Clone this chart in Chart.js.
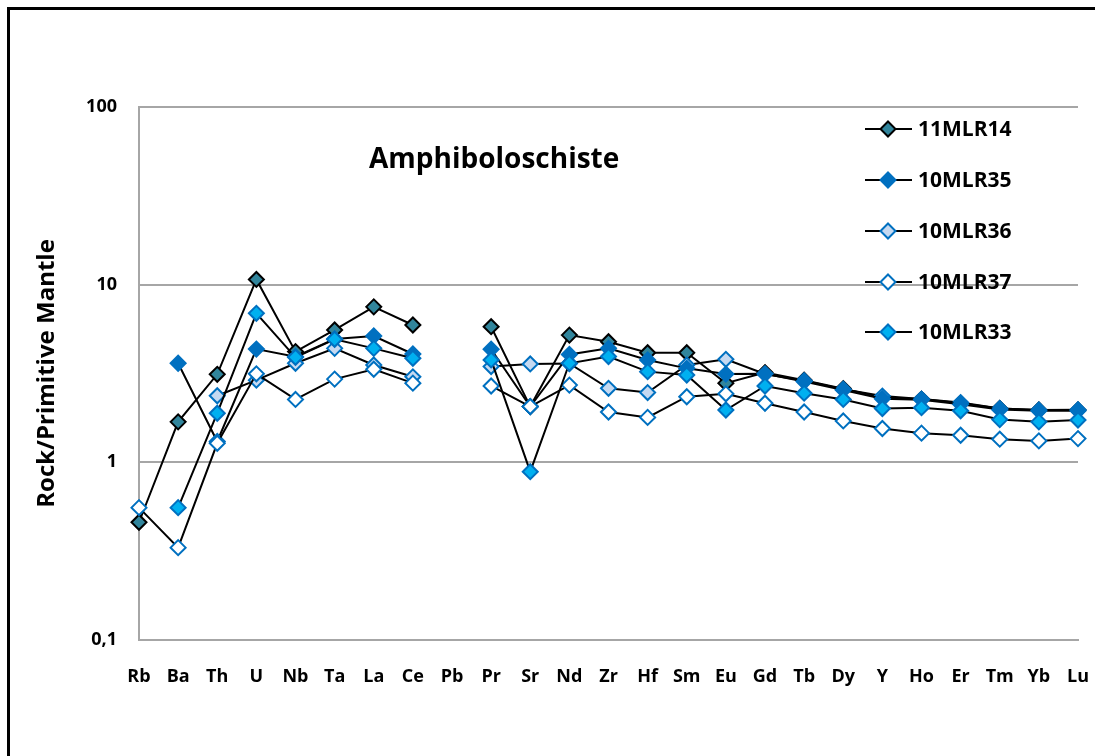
<!DOCTYPE html>
<html>
<head>
<meta charset="utf-8">
<script src="https://cdn.jsdelivr.net/npm/chart.js@4/dist/chart.umd.min.js"></script>
<style>
  html, body { margin: 0; padding: 0; background: #fff; }
  #wrap { width: 1095px; height: 756px; position: relative; }
</style>
</head>
<body>
<div id="wrap"><canvas id="spiderChart"></canvas></div>
<script>
// Éléments (axe X)
const elements = ['Rb', 'Ba', 'Th', 'U', 'Nb', 'Ta', 'La', 'Ce', 'Pb', 'Pr', 'Sr', 'Nd', 'Zr', 'Hf', 'Sm', 'Eu', 'Gd', 'Tb', 'Dy', 'Y', 'Ho', 'Er', 'Tm', 'Yb', 'Lu'];

// Ticks de l'axe Y (log)
const yTicks = [0.1, 1, 10, 100];

// Échantillons normalisés au manteau primitif
const mlr14 = [0.46, 1.69, 3.13, 10.7, 4.2, 5.56, 7.5, 5.93, null, 5.8, 2.06, 5.2, 4.77, 4.14, 4.14, 2.79, 3.2, 2.9, 2.6, 2.32, 2.27, 2.15, 2.01, 1.97, 1.97];
const mlr35 = [null, 3.61, 1.31, 4.34, 3.93, 4.95, 5.14, 4.07, null, 4.33, 2.06, 4.05, 4.38, 3.77, 3.38, 3.14, 3.15, 2.85, 2.55, 2.28, 2.25, 2.12, 1.98, 1.95, 1.95];
const mlr36 = [null, null, 2.37, 2.9, 3.61, 4.38, 3.53, 3.03, null, 3.46, 3.58, 3.6, 2.61, 2.47, 3.53, 3.8, 3.14, 2.88, 2.58, 2.36, 2.27, 2.17, 2.01, 1.97, 1.98];
const mlr37 = [0.556, 0.331, 1.28, 3.15, 2.26, 2.94, 3.34, 2.79, null, 2.69, 2.06, 2.72, 1.92, 1.79, 2.34, 2.43, 2.15, 1.92, 1.71, 1.55, 1.46, 1.42, 1.35, 1.32, 1.36];
const mlr33 = [null, 0.556, 1.89, 6.9, 3.9, 4.93, 4.38, 3.85, null, 3.77, 0.886, 3.61, 3.94, 3.24, 3.1, 1.97, 2.69, 2.45, 2.26, 2.01, 2.03, 1.95, 1.74, 1.69, 1.73];

const FONT = '"Open Sans", Lato, sans-serif';

function serie(label, data, fill, border, order) {
    return {
        label: label,
        data: data,
        borderColor: '#000',
        borderWidth: 2,
        pointStyle: 'rectRot',
        pointRadius: 7.5,
        pointHoverRadius: 7.5,
        pointBackgroundColor: fill,
        pointBorderColor: border,
        pointBorderWidth: 2,
        spanGaps: false,
        tension: 0,
        order: order
    };
}

// Titre, légende et cadre dessinés à la main
const decorPlugin = {
    id: 'decor',
    afterDraw(chart) {
        const ctx = chart.ctx;
        ctx.save();
        // cadre noir
        ctx.strokeStyle = '#000';
        ctx.lineWidth = 3;
        ctx.strokeRect(8.5, 8.5, 2000, 2000);

        // titre
        ctx.fillStyle = '#000';
        ctx.font = 'bold 28px ' + FONT;
        ctx.textBaseline = 'middle';
        ctx.textAlign = 'left';
        ctx.fillText('Amphiboloschiste', 369, 160);

        // légende
        const ys = [129, 180, 231, 282, 332];
        chart.data.datasets.forEach(function(ds, i) {
            const y = ys[i];
            ctx.strokeStyle = '#000';
            ctx.lineWidth = 2;
            ctx.beginPath();
            ctx.moveTo(865, y);
            ctx.lineTo(912, y);
            ctx.stroke();
            ctx.fillStyle = ds.pointBackgroundColor;
            ctx.strokeStyle = ds.pointBorderColor;
            ctx.lineWidth = 2;
            ctx.beginPath();
            ctx.moveTo(888, y - 7.5);
            ctx.lineTo(895.5, y);
            ctx.lineTo(888, y + 7.5);
            ctx.lineTo(880.5, y);
            ctx.closePath();
            ctx.fill();
            ctx.stroke();
            ctx.fillStyle = '#000';
            ctx.font = 'bold 21px ' + FONT;
            ctx.fillText(ds.label, 918, y + 1);
        });
        ctx.restore();
    }
};

const ctx = document.getElementById('spiderChart').getContext('2d');
const spiderChart = new Chart(ctx, {
    type: 'line',
    data: {
        labels: elements,
        datasets: [
            serie('11MLR14', mlr14, '#31859C', '#000000', 5),
            serie('10MLR35', mlr35, '#0070C0', '#0070C0', 3),
            serie('10MLR36', mlr36, '#C5D9F1', '#0070C0', 4),
            serie('10MLR37', mlr37, '#FFFFFF', '#0070C0', 2),
            serie('10MLR33', mlr33, '#00B0F0', '#0070C0', 1)
        ]
    },
    options: {
        responsive: true,
        maintainAspectRatio: false,
        animation: false,
        layout: {
            padding: { top: 107, right: 17, left: 0, bottom: 0 }
        },
        plugins: {
            legend: { display: false },
            tooltip: { enabled: false }
        },
        scales: {
            x: {
                type: 'category',
                offset: false,
                grid: { display: false, drawTicks: false },
                border: { display: true, color: '#A6A6A6', width: 2 },
                ticks: {
                    autoSkip: false,
                    maxRotation: 0,
                    padding: 26,
                    color: '#000',
                    font: { family: FONT, size: 18, weight: 'bold' }
                },
                afterFit(scale) {
                    scale.height = 116;
                    scale.paddingLeft = 0;
                    scale.paddingRight = 0;
                }
            },
            y: {
                type: 'logarithmic',
                min: 0.1,
                max: 100,
                afterBuildTicks(scale) {
                    scale.ticks = yTicks.map(v => ({ value: v }));
                },
                grid: { color: '#A6A6A6', lineWidth: 2, drawTicks: false },
                border: { display: true, color: '#A6A6A6', width: 2 },
                ticks: {
                    padding: 22,
                    color: '#000',
                    font: { family: FONT, size: 18, weight: 'bold' },
                    callback: v => String(v).replace('.', ',')
                },
                title: {
                    display: true,
                    text: 'Rock/Primitive Mantle',
                    color: '#000',
                    font: { family: FONT, size: 24, weight: 'bold' },
                    padding: { top: 33, bottom: 0 }
                },
                afterFit(scale) { scale.width = 139; }
            }
        }
    },
    plugins: [decorPlugin]
});
</script>
</body>
</html>
